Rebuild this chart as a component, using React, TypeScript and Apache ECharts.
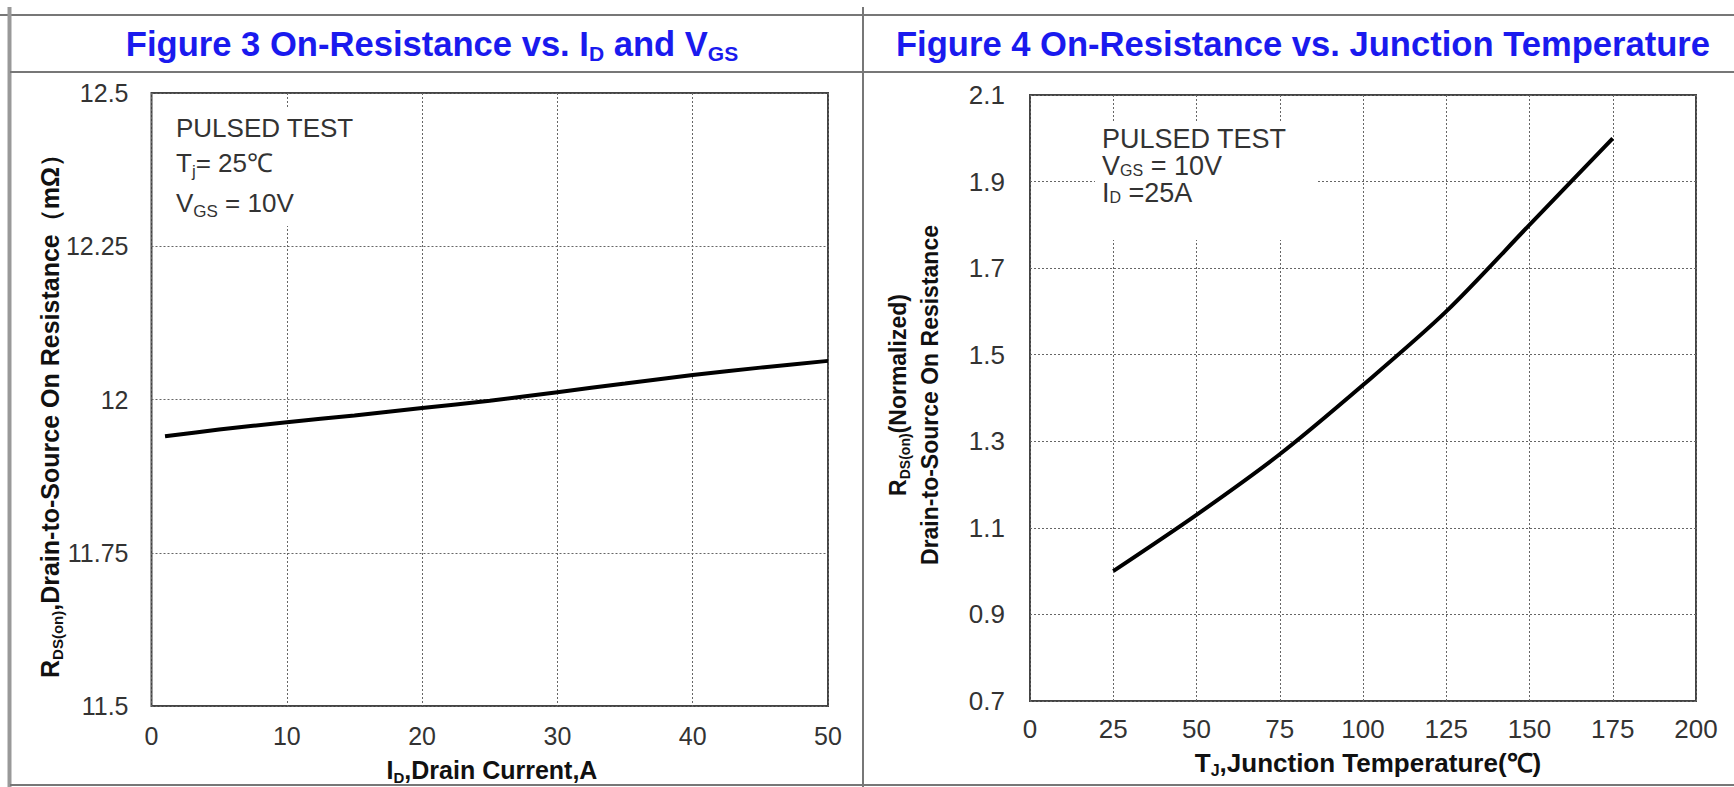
import React, { useEffect, useRef } from 'react';
import * as echarts from 'echarts';

// ---- data ----
const fig3Current = [1, 5, 10, 15, 20, 25, 30, 35, 40, 45, 50];
const fig3Rds = [11.94, 11.951, 11.963, 11.974, 11.986, 11.998, 12.012, 12.026, 12.04, 12.052, 12.063];
const fig3XTicks = [0, 10, 20, 30, 40, 50];
const fig3YTicks = [11.5, 11.75, 12, 12.25, 12.5];

const fig4Temp = [25, 50, 75, 100, 125, 150, 175];
const fig4RdsNorm = [1.0, 1.13, 1.27, 1.43, 1.6, 1.8, 2.0];
const fig4XTicks = [0, 25, 50, 75, 100, 125, 150, 175, 200];
const fig4YTicks = [0.7, 0.9, 1.1, 1.3, 1.5, 1.7, 1.9, 2.1];

const FONT = "'Liberation Sans', Arial, Helvetica, sans-serif";
const TXT = '#333333';
const BLUE = '#1a1aee';
const FRAME = '#777777';

function richText(fontSize: number, subSize: number, lineHeight: number, bold: boolean, color: string, subLineHeight?: number) {
  return {
    n: { fontSize, fontFamily: FONT, fontWeight: bold ? 'bold' : 'normal', fill: color, color, lineHeight },
    s: {
      fontSize: subSize,
      fontFamily: FONT,
      fontWeight: bold ? 'bold' : 'normal',
      fill: color,
      color,
      lineHeight: subLineHeight ?? subSize + 1,
      verticalAlign: 'bottom',
    },
  };
}

function textEl(x: number, y: number, text: string, rich: any, align: string, rotation = 0, z = 60) {
  return {
    type: 'text',
    x,
    y,
    rotation,
    z,
    style: { text, rich, align, verticalAlign: 'middle' },
  };
}

function line(x1: number, y1: number, x2: number, y2: number, w = 2, c = FRAME) {
  return { type: 'line', z: 5, shape: { x1, y1, x2, y2 }, style: { stroke: c, lineWidth: w } };
}

function valueAxis(ticks: number[], gridIndex: number, margin: number, fontSize: number, fmt?: (v: number) => string) {
  return {
    type: 'value',
    gridIndex,
    min: ticks[0],
    max: ticks[ticks.length - 1],
    interval: ticks[1] - ticks[0],
    axisLine: { show: false },
    axisTick: { show: false },
    axisLabel: {
      color: TXT,
      fontSize,
      fontFamily: FONT,
      margin,
      formatter: fmt,
      showMinLabel: true,
      showMaxLabel: true,
    },
    splitLine: { show: true, lineStyle: { color: '#666', width: 1, type: [2, 2] } },
  };
}

export default function App() {
  const ref = useRef<HTMLDivElement>(null);
  useEffect(() => {
    document.body.style.margin = '0';
    if (!ref.current) return;
    const chart = echarts.init(ref.current, undefined, { renderer: 'svg' });

    const ann3 = richText(26, 17, 34, false, TXT);
    const ann4 = richText(27, 16, 25, false, TXT, 11);
    const title = richText(34.6, 21, 40, true, BLUE);
    const ylab3 = richText(25, 15, 30, true, '#111');
    const ylab4 = richText(23, 14, 28, true, '#111');
    const xlab3 = richText(25, 15, 30, true, '#111');
    const xlab4 = richText(26, 16, 30, true, '#111');

    chart.setOption({
      animation: false,
      backgroundColor: '#ffffff',
      grid: [
        { left: 151.5, top: 93, width: 676.5, height: 613, show: true, borderColor: '#444', borderWidth: 2, backgroundColor: 'transparent' },
        { left: 1030, top: 95, width: 666, height: 606, show: true, borderColor: '#444', borderWidth: 2, backgroundColor: 'transparent' },
      ],
      xAxis: [
        valueAxis(fig3XTicks, 0, 17, 25),
        valueAxis(fig4XTicks, 1, 15, 26),
      ],
      yAxis: [
        valueAxis(fig3YTicks, 0, 23, 25, (v: number) => String(+v.toFixed(2))),
        valueAxis(fig4YTicks, 1, 25, 26, (v: number) => v.toFixed(1)),
      ],
      series: [
        {
          type: 'line',
          xAxisIndex: 0,
          yAxisIndex: 0,
          data: fig3Current.map((x, i) => [x, fig3Rds[i]]),
          showSymbol: false,
          smooth: 0.3,
          lineStyle: { color: '#000', width: 4 },
          z: 20,
        },
        {
          type: 'line',
          xAxisIndex: 1,
          yAxisIndex: 1,
          data: fig4Temp.map((x, i) => [x, fig4RdsNorm[i]]),
          showSymbol: false,
          smooth: 0.3,
          lineStyle: { color: '#000', width: 4 },
          z: 20,
        },
      ],
      graphic: [
        // frame
        line(0, 15, 1734, 15),
        line(9.5, 7, 9.5, 787, 4, '#999'),
        line(10, 72, 1734, 72),
        line(10, 785, 1734, 785),
        line(863, 7, 863, 787),
        // titles
        textEl(432, 44, '{n|Figure 3 On-Resistance vs. I}{s|D}{n| and V}{s|GS}', title, 'center'),
        textEl(1303, 44, '{n|Figure 4 On-Resistance vs. Junction Temperature}', title, 'center'),
        // annotation boxes
        { type: 'rect', z: 50, shape: { x: 160, y: 107, width: 205, height: 119 }, style: { fill: '#fff' } },
        { type: 'rect', z: 50, shape: { x: 1095, y: 122, width: 221, height: 118 }, style: { fill: '#fff' } },
        textEl(176, 128, '{n|PULSED TEST}', ann3, 'left'),
        textEl(176, 163, '{n|T}{s|j}{n|= 25℃}', ann3, 'left'),
        textEl(176, 203, '{n|V}{s|GS}{n| = 10V}', ann3, 'left'),
        textEl(1102, 139, '{n|PULSED TEST}', ann4, 'left'),
        textEl(1102, 166, '{n|V}{s|GS}{n| = 10V}', ann4, 'left'),
        textEl(1102, 193, '{n|I}{s|D}{n| =25A}', ann4, 'left'),
        // axis titles
        textEl(50, 410, '{n|R}{s|DS(on)}{n|,Drain-to-Source On Resistance（mΩ）}', ylab3, 'center', Math.PI / 2),
        textEl(898, 395, '{n|R}{s|DS(on)}{n|(Normalized)}', ylab4, 'center', Math.PI / 2),
        textEl(930, 395, '{n|Drain-to-Source On Resistance}', ylab4, 'center', Math.PI / 2),
        textEl(492, 770, '{n|I}{s|D}{n|,Drain Current,A}', xlab3, 'center'),
        textEl(1368, 763, '{n|T}{s|J}{n|,Junction Temperature(℃)}', xlab4, 'center'),
      ],
    });
    return () => chart.dispose();
  }, []);
  return <div ref={ref} style={{ width: 1734, height: 787 }} />;
}
